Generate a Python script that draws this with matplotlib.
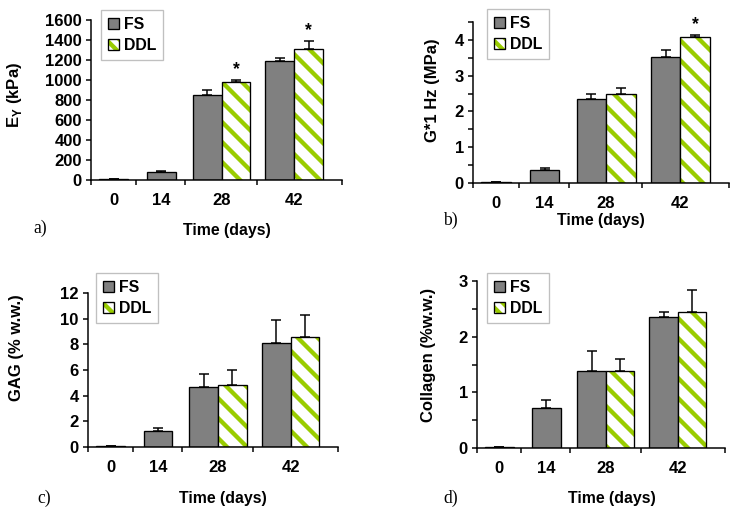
import matplotlib

matplotlib.use("Agg")
import matplotlib.pyplot as plt
import numpy as np
from matplotlib.legend_handler import HandlerTuple
from matplotlib.patches import Patch
from matplotlib.ticker import MultipleLocator

DAYS = ["0", "14", "28", "42"]

# a) Young's modulus (kPa)
EY_FS = [10, 80, 855, 1190]
EY_FS_ERR = [3, 8, 50, 35]
EY_DDL = [np.nan, np.nan, 985, 1315]
EY_DDL_ERR = [np.nan, np.nan, 20, 75]
EY_STAR = [False, False, True, True]

# b) dynamic modulus G* at 1 Hz (MPa)
G_FS = [0.03, 0.35, 2.36, 3.53]
G_FS_ERR = [0.0, 0.07, 0.13, 0.19]
G_DDL = [np.nan, np.nan, 2.48, 4.08]
G_DDL_ERR = [np.nan, np.nan, 0.17, 0.07]
G_STAR = [False, False, False, True]

# c) GAG (% w.w.)
GAG_FS = [0.1, 1.25, 4.64, 8.1]
GAG_FS_ERR = [0.0, 0.26, 1.05, 1.8]
GAG_DDL = [np.nan, np.nan, 4.8, 8.6]
GAG_DDL_ERR = [np.nan, np.nan, 1.2, 1.7]
GAG_STAR = [False, False, False, False]

# d) collagen (% w.w.)
COL_FS = [0.02, 0.71, 1.38, 2.36]
COL_FS_ERR = [0.0, 0.16, 0.37, 0.08]
COL_DDL = [np.nan, np.nan, 1.38, 2.45]
COL_DDL_ERR = [np.nan, np.nan, 0.21, 0.39]
COL_STAR = [False, False, False, False]

W, H, DPI = 735, 516, 120
GRAY = "#808080"
GREEN = "#99cc00"
BOUNDS = [0.0, 0.178, 0.375, 0.66, 1.0]
CENTERS = [0.09, 0.28, 0.52, 0.81]
BAR_W = 0.115

plt.rcParams.update({
    "font.family": "Liberation Sans",
    "font.weight": "bold",
    "mathtext.fontset": "custom",
    "mathtext.bf": "Liberation Sans:bold",
    "hatch.linewidth": 2.6,
    "axes.linewidth": 0.9,
})


def fx(x):
    return x / W


def fy(y):
    return 1 - y / H


def draw_panel(fig, box, fs, fs_err, ddl, ddl_err, star, ylim, major, minor):
    left, top, right, bottom = box
    ax = fig.add_axes([fx(left), fy(bottom), (right - left) / W, (bottom - top) / H])
    x = np.array(CENTERS)
    fs = np.array(fs, dtype=float)
    ddl = np.array(ddl, dtype=float)
    paired = ~np.isnan(ddl)
    fs_x = np.where(paired, x - BAR_W / 2, x)
    ddl_x = x + BAR_W / 2

    ax.bar(fs_x, fs, BAR_W, color=GRAY, edgecolor="black", linewidth=0.8, zorder=2)
    ax.errorbar(fs_x, fs, yerr=[np.zeros(len(fs)), fs_err], fmt="none", ecolor="black",
                elinewidth=0.9, capsize=3.2, capthick=0.9, zorder=3)

    ax.bar(ddl_x[paired], ddl[paired], BAR_W, color="white", edgecolor=GREEN,
           hatch="\\\\", linewidth=0, zorder=2)
    ax.bar(ddl_x[paired], ddl[paired], BAR_W, fill=False, edgecolor="black",
           linewidth=0.8, zorder=2.5)
    derr = np.array(ddl_err, dtype=float)[paired]
    ax.errorbar(ddl_x[paired], ddl[paired], yerr=[np.zeros(paired.sum()), derr], fmt="none",
                ecolor="black", elinewidth=0.9, capsize=3.2, capthick=0.9, zorder=3)

    for xi, top_val, err, s in zip(ddl_x, ddl, ddl_err, star):
        if s:
            ax.annotate("*", (xi, top_val + err), xytext=(0, 1), textcoords="offset points",
                        ha="center", va="bottom", fontsize=10.5)

    ax.set_xlim(0, 1)
    ax.set_ylim(*ylim)
    ax.set_xticks(BOUNDS)
    ax.set_xticklabels([])
    ax.set_xticks(CENTERS, minor=True)
    ax.set_xticklabels(DAYS, minor=True, fontsize=10, fontweight="bold")
    ax.tick_params(axis="x", which="major", direction="out", length=3, width=0.9)
    ax.tick_params(axis="x", which="minor", length=0, pad=8)
    ax.set_yticks(np.arange(ylim[0], ylim[1] + major / 2, major))
    if minor:
        ax.yaxis.set_minor_locator(MultipleLocator(minor))
    ax.tick_params(axis="y", which="both", direction="out", length=3, width=0.9,
                   labelsize=10, pad=2.5)
    for side in ("top", "right"):
        ax.spines[side].set_visible(False)
    return ax


def main() -> None:
    fig = plt.figure(figsize=(W / DPI, H / DPI), dpi=DPI)

    panels = [
        dict(box=(91, 20, 342, 180), fs=EY_FS, fs_err=EY_FS_ERR, ddl=EY_DDL, ddl_err=EY_DDL_ERR,
             star=EY_STAR, ylim=(0, 1600), major=200, minor=None,
             ylabel=r"E$_\mathbf{Y}$ (kPa)", ylab=(15, 95), xlab=(227, 230),
             letter="a)", let=(33, 228), leg=(101, 10)),
        dict(box=(473, 22, 729, 183), fs=G_FS, fs_err=G_FS_ERR, ddl=G_DDL, ddl_err=G_DDL_ERR,
             star=G_STAR, ylim=(0, 4.5), major=1, minor=0.5,
             ylabel="G*1 Hz (MPa)", ylab=(432, 90), xlab=(601, 220),
             letter="b)", let=(443, 220), leg=(487, 9)),
        dict(box=(88, 293, 338, 447), fs=GAG_FS, fs_err=GAG_FS_ERR, ddl=GAG_DDL, ddl_err=GAG_DDL_ERR,
             star=GAG_STAR, ylim=(0, 12), major=2, minor=None,
             ylabel="GAG (% w.w.)", ylab=(17, 348), xlab=(223, 498),
             letter="c)", let=(37, 498), leg=(96, 273)),
        dict(box=(477, 281, 725, 448), fs=COL_FS, fs_err=COL_FS_ERR, ddl=COL_DDL, ddl_err=COL_DDL_ERR,
             star=COL_STAR, ylim=(0, 3), major=1, minor=0.5,
             ylabel="Collagen (%w.w.)", ylab=(428, 355), xlab=(612, 498),
             letter="d)", let=(443, 498), leg=(487, 273)),
    ]

    fs_handle = Patch(facecolor=GRAY, edgecolor="black", linewidth=0.8)
    # denser hatch on the small legend key so a stripe always shows
    ddl_handle = (
        Patch(facecolor="white", edgecolor=GREEN, hatch="\\\\\\", linewidth=0),
        Patch(fill=False, edgecolor="black", linewidth=0.8),
    )

    for p in panels:
        ax = draw_panel(fig, p["box"], p["fs"], p["fs_err"], p["ddl"], p["ddl_err"],
                        p["star"], p["ylim"], p["major"], p["minor"])
        fig.text(fx(p["ylab"][0]), fy(p["ylab"][1]), p["ylabel"], rotation=90,
                 ha="center", va="center", fontsize=10, fontweight="bold")
        fig.text(fx(p["xlab"][0]), fy(p["xlab"][1]), "Time (days)",
                 ha="center", va="center", fontsize=9.5, fontweight="bold")
        fig.text(fx(p["let"][0]), fy(p["let"][1]), p["letter"], ha="left", va="center",
                 fontsize=10.5, family="Liberation Serif", fontweight="normal")
        leg = ax.legend([fs_handle, ddl_handle], ["FS", "DDL"],
                        handler_map={tuple: HandlerTuple(ndivide=1)},
                        loc="upper left", bbox_to_anchor=(fx(p["leg"][0]), fy(p["leg"][1])),
                        bbox_transform=fig.transFigure, frameon=True, fancybox=False,
                        edgecolor="#c0c0c0", framealpha=1, handlelength=0.7, handleheight=0.7,
                        handletextpad=0.3, borderpad=0.45, labelspacing=0.35, borderaxespad=0,
                        prop=dict(weight="bold", size=9.5))
        leg.get_frame().set_linewidth(0.8)

    fig.savefig("out.png", dpi=DPI)


if __name__ == "__main__":
    main()
